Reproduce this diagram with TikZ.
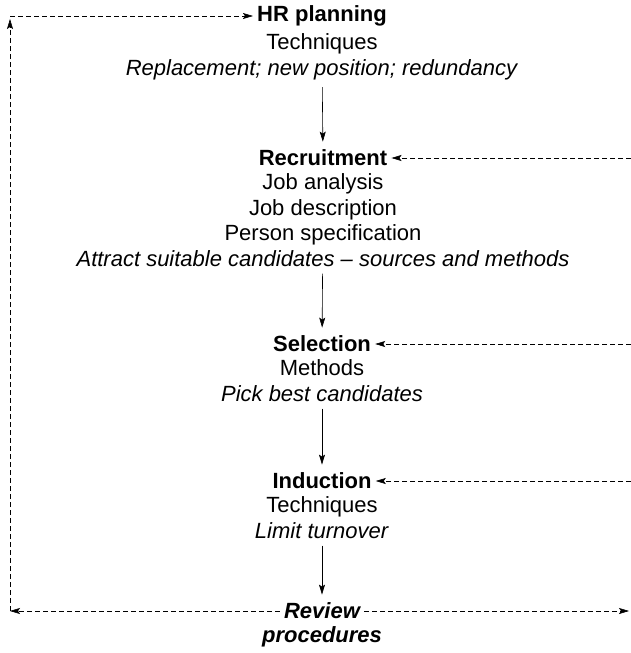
\documentclass[tikz,border=0pt]{standalone}
\usepackage{fontspec}
\setmainfont{Liberation Sans}
\usetikzlibrary{
    arrows.meta, % Stealth tips on the arrows.
    positioning, % Placing the text below the headings.
}

\begin{document}
\begin{tikzpicture}[%
        x = 1pt,
        y = -1pt,
        line width = 0.6pt,
        txt/.style = {align = center, inner sep = 1pt,
            font = \fontsize{22}{25.5}\selectfont},
        head/.style = {inner sep = 4pt,
            font = \fontsize{22}{25.5}\selectfont\bfseries},
        flow/.style = {-{Stealth[length = 10pt, width = 6pt, inset = 2pt]},
            shorten < = 6pt, shorten > = 4pt},
        loop/.style = {-{Stealth[length = 10pt, width = 6pt, inset = 2pt]},
            dash pattern = on 5pt off 3pt}
    ]
    \useasboundingbox (0, 0) rectangle (630, 653);

    % Coordinates for the left and right edges.
    \coordinate (L) at (10, 0);
    \coordinate (R) at (629, 0);
    \coordinate (E) at (631, 0);

    % Nodes for the headings.
    \node[head] (hr) at (322, 16) {HR planning};
    \node[head] (rec) at (323, 158) {Recruitment};
    \node[head] (sel) at (322, 344) {Selection};
    \node[head] (ind) at (322, 481) {Induction};
    \node[head, font = \fontsize{22}{25.5}\selectfont\bfseries\itshape]
        (rev) at (322, 611) {Review};

    % Nodes for the text below the headings.
    \node[txt, below = 2pt of hr] (hrtxt)
        {Techniques\\\textit{Replacement; new position; redundancy}};
    \node[txt, below = 2pt of rec] (rectxt)
        {Job analysis\\Job description\\Person specification\\
        \textit{Attract suitable candidates -- sources and methods}};
    \node[txt, below = 2pt of sel] (seltxt)
        {Methods\\\textit{Pick best candidates}};
    \node[txt, below = 2pt of ind] (indtxt)
        {Techniques\\\textit{Limit turnover}};
    \node[txt, below = 2pt of rev, font = \fontsize{22}{25.5}\selectfont\bfseries\itshape]
        (revtxt) {procedures};

    % Solid arrows down the stages.
    \draw[flow] (hrtxt) -- (rec);
    \draw[flow] (rectxt) -- (sel);
    \draw[flow] (seltxt) -- (ind);
    \draw[flow] (indtxt) -- (rev);

    % Dashed loop round the left side.
    \draw[loop] (rev.west) -- (rev -| L);
    \draw[loop, shorten > = 3pt] (rev -| L) -- (hr -| L);
    \draw[loop] (hr -| L) -- (hr.west);

    % Dashed arrows from the right side.
    \draw[loop] (rev.east) -- (rev -| R);
    \draw[loop] (rec -| E) -- (rec.east);
    \draw[loop] (sel -| E) -- (sel.east);
    \draw[loop] (ind -| E) -- (ind.east);
\end{tikzpicture}
\end{document}
